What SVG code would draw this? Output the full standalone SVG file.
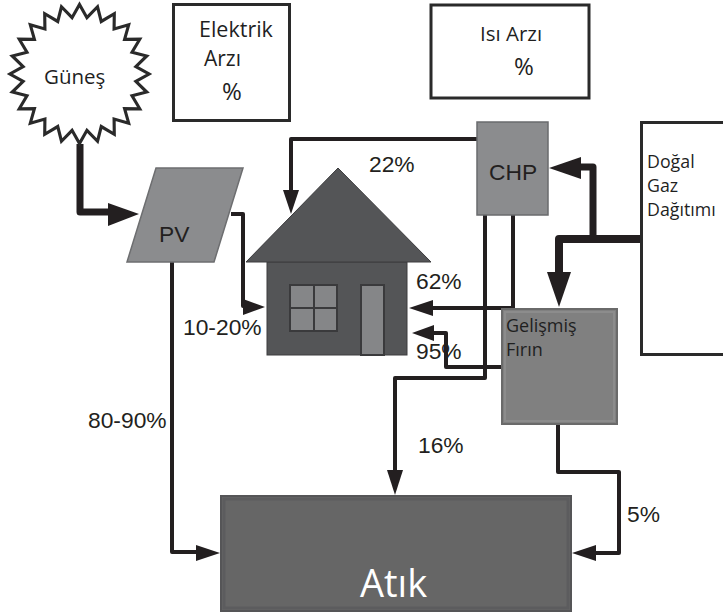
<svg xmlns="http://www.w3.org/2000/svg" width="723" height="616" viewBox="0 0 723 616">
<style>
.a{font-family:"Liberation Sans",Arial,sans-serif;font-size:22.8px;fill:#231f20}
.o{font-family:"Open Sans","Noto Sans",sans-serif;fill:#1f1f1f}
.box{fill:#fff;stroke:#2a2a2a;stroke-width:3}
.c{fill:none;stroke:#231f20;stroke-width:4;stroke-linejoin:round}
.h{fill:#231f20;stroke:none}
</style>
<rect width="723" height="616" fill="#fff"/>
<g id="connectors">
<path class="c" style="stroke-width:7" d="M80 144V212H112"/>
<polygon class="h" points="139,214 108,203 108,226"/>
<path class="c" d="M231 214H243V306H248"/>
<polygon class="h" points="265,307 243,299 243,315"/>
<path class="c" d="M478 139H291V192"/>
<polygon class="h" points="291,214 283,190 299,190"/>
<path class="c" d="M513 215V308H430"/>
<polygon class="h" points="409,308 433,300 433,316"/>
<path class="c" d="M485 215V378H395V472"/>
<polygon class="h" points="395,495 387,470 403,470"/>
<path class="c" d="M501 367H446V333H430"/>
<polygon class="h" points="412,333 434,325 434,341"/>
<path class="c" style="stroke-width:8" d="M641 239H559V275"/>
<polygon class="h" points="559,307 547,272 571,272"/>
<path class="c" style="stroke-width:7" d="M593 239V167H577"/>
<polygon class="h" points="549,168 581,157 581,179"/>
<path class="c" d="M172 262V552H198"/>
<polygon class="h" points="220,553 196,545 196,561"/>
<path class="c" d="M558 425V472H619V553H594"/>
<polygon class="h" points="572,553 596,545 596,561"/>
</g>
<g id="sun">
<polygon transform="translate(79.500 74) scale(.98) translate(-80 -75)" fill="#fff" stroke="#2a2a2a" stroke-width="3.2" stroke-linejoin="miter" points="80,4 87.6,17.5 98.4,6.4 102.2,21.4 115.5,13.5 115.3,29 130.2,24.8 126,39.7 141.5,39.5 133.6,52.8 148.6,56.6 137.5,67.4 151,75 137.5,82.6 148.6,93.4 133.6,97.2 141.5,110.5 126,110.3 130.2,125.2 115.3,121 115.5,136.5 102.2,128.6 98.4,143.6 87.6,132.5 80,146 72.4,132.5 61.6,143.6 57.8,128.6 44.5,136.5 44.7,121 29.8,125.2 34,110.3 18.5,110.5 26.4,97.2 11.4,93.4 22.5,82.6 9,75 22.5,67.4 11.4,56.6 26.4,52.8 18.5,39.5 34,39.7 29.8,24.8 44.7,29 44.5,13.5 57.8,21.4 61.6,6.4 72.4,17.5"/>
<text class="o" x="44" y="84" font-size="20.5">Güneş</text>
</g>
<g id="elektrik">
<rect class="box" x="173.500" y="4.500" width="116" height="116"/>
<text class="o" x="199" y="37" font-size="21.500">Elektrik</text>
<text class="o" x="204" y="66" font-size="21">Arzı</text>
<text class="o" x="222" y="100" font-size="24">%</text>
</g>
<g id="isi">
<rect class="box" x="431" y="5" width="158" height="93"/>
<text class="o" x="480" y="41" font-size="20.500">Isı Arzı</text>
<text class="o" x="514" y="75" font-size="24">%</text>
</g>
<g id="pv">
<polygon fill="#8b8c8e" stroke="#6d6e70" stroke-width="1.500" points="156,168 243,168 214,262 127,262"/>
<text class="a" x="159" y="242">PV</text>
</g>
<g id="house">
<rect x="267" y="262" width="140" height="93" fill="#545557" stroke="#3c3c3e" stroke-width="1"/>
<polygon fill="#545557" stroke="#3c3c3e" stroke-width="1" points="338,168 431,262 246,262"/>
<rect x="290" y="285" width="47" height="46" fill="#858688" stroke="#3a3a3c" stroke-width="2"/>
<path d="M314 285V331M290 308H337" stroke="#3a3a3c" stroke-width="2" fill="none"/>
<rect x="361" y="285" width="23" height="70" fill="#858688" stroke="#3a3a3c" stroke-width="2"/>
</g>
<g id="chp">
<rect x="477" y="122" width="71" height="93" fill="#8b8c8e" stroke="#6a6b6d" stroke-width="1.500"/>
<text class="a" x="489" y="180">CHP</text>
</g>
<g id="firin">
<rect x="502" y="309" width="115" height="115" fill="#808080" stroke="#6a6a6a" stroke-width="2"/>
<rect x="505" y="312" width="109" height="109" fill="none" stroke="#8c8c8c" stroke-width="2"/>
<text class="o" x="506" y="332" font-size="18">Gelişmiş</text>
<text class="o" x="506" y="356" font-size="18">Fırın</text>
</g>
<g id="dogal">
<rect class="box" x="641.500" y="122.500" width="90" height="232"/>
<text class="o" x="647" y="168" font-size="17.800">Doğal</text>
<text class="o" x="647" y="192" font-size="17.800">Gaz</text>
<text class="o" x="647" y="216" font-size="17.800">Dağıtımı</text>
</g>
<g id="atik">
<rect x="221" y="496" width="350" height="115" fill="#666666" stroke="#555557" stroke-width="2"/>
<rect x="224" y="499" width="344" height="109" fill="none" stroke="#5c5c5e" stroke-width="3"/>
<text class="o" x="360" y="597" font-size="38" style="fill:#fff">Atık</text>
</g>
<g id="labels">
<text class="a" x="369" y="172">22%</text>
<text class="a" x="416" y="289">62%</text>
<text class="a" x="416" y="359">95%</text>
<text class="a" x="183" y="335">10-20%</text>
<text class="a" x="88" y="428">80-90%</text>
<text class="a" x="418" y="453">16%</text>
<text class="a" x="627" y="522">5%</text>
</g>
</svg>
